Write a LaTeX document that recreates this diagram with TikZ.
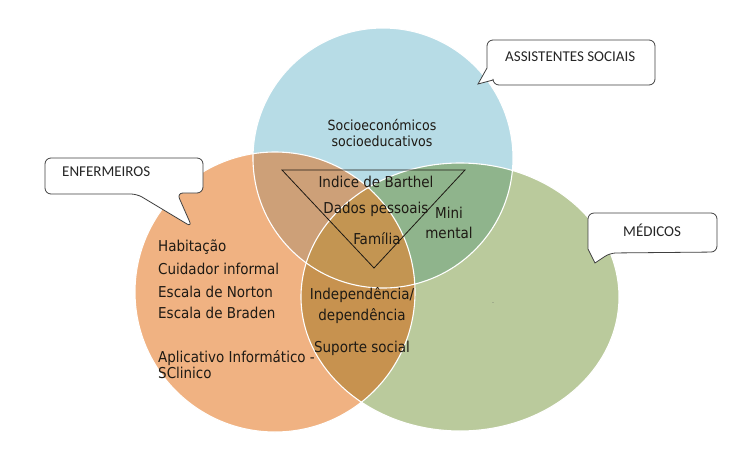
\documentclass[tikz,border=0pt]{standalone}
\usepackage{fontspec}
\newfontfamily\tahfont{DejaVu Sans Condensed}
\newfontfamily\calfont{Carlito}
\definecolor{cblue}{HTML}{B7DCE6}
\definecolor{corange}{HTML}{F0B282}
\definecolor{cgreen}{HTML}{BACA9C}
\definecolor{cab}{HTML}{CDA078}
\definecolor{cac}{HTML}{8FB48C}
\definecolor{cbc}{HTML}{C7924F}
\definecolor{cabc}{HTML}{C39552}
\definecolor{ctxt}{HTML}{1E1A14}
\begin{document}
\begin{tikzpicture}[x=1pt,y=-1pt,
  lbl/.style={font=\tahfont\fontsize{15}{17}\selectfont, text=ctxt, inner sep=0pt},
  callout/.style={draw=black!75, line width=0.8pt, fill=white, rounded corners=6pt},
  ctext/.style={font=\calfont\fontsize{15}{17}\selectfont, text=black!85, inner sep=0pt, anchor=west},
  rim/.style={draw=white, line width=1.1pt}]
\useasboundingbox (0,0) rectangle (748,459);
\def\A{(383,158) circle (130pt)}
\def\B{(275,292) circle (140pt)}
\def\C{(460,297) ellipse [x radius=159pt, y radius=134pt]}
% base fills
\fill[cblue] \A;
\fill[corange] \B;
\fill[cgreen] \C;
\begin{scope}\clip \A; \fill[cab] \B;\end{scope}
\begin{scope}\clip \A; \fill[cac] \C;\end{scope}
\begin{scope}\clip \B; \fill[cbc] \C;\end{scope}
\begin{scope}\clip \A; \clip \B; \fill[cabc] \C;\end{scope}
\path[rim] \A;
\path[rim] \B;
\path[rim] \C;
% triangle
\coordinate (t1) at (282,170);
\coordinate (t2) at (465,170);
\coordinate (t3) at (374,268);
\draw[line width=0.8pt, color=ctxt] (t1) -- (t2) -- (t3) -- cycle;
% texts
\node[lbl, align=center, font=\tahfont\fontsize{14}{16}\selectfont] (soc) at (382,133) {Socioeconómicos\\socioeducativos};
\node[lbl] (bar) at (376,182) {Indice de Barthel};
\node[lbl] (dad) at (376,209) {Dados pessoais};
\node[lbl] (fam) at (377,239) {Família};
\node[lbl, align=center, font=\tahfont\fontsize{15}{20}\selectfont] (mini) at (449,223) {Mini\\mental};
\node[lbl, anchor=west] (hab) at (158,247) {Habitação};
\node[lbl, anchor=west] (cui) at (158,269) {Cuidador informal};
\node[lbl, anchor=west] (nor) at (158,292) {Escala de Norton};
\node[lbl, anchor=west] (bra) at (158,313) {Escala de Braden};
\node[lbl, anchor=west, align=left, font=\tahfont\fontsize{15}{16}\selectfont] (apl) at (158,365) {Aplicativo Informático -\\SClinico};
\node[lbl, align=center, font=\tahfont\fontsize{15}{21}\selectfont] (ind) at (362,306) {Independência/\\dependência};
\node[lbl] (sup) at (362,348) {Suporte social};
\node[inner sep=0pt, font=\tahfont\fontsize{7}{8}\selectfont, text=black!60] (dot) at (493,303) {.};
% callouts
\draw[callout] (45,158) -- (203,158) -- (203,193) -- (177,193) -- (192,227) -- (137,194) -- (45,194) -- cycle;
\node[ctext] (enf) at (62,172) {ENFERMEIROS};
\draw[callout] (487,40) -- (655,40) -- (655,85) -- (493,85) [sharp corners] -- (493,80) -- (478,84) -- (487,68) [rounded corners=6pt] -- cycle;
\node[ctext] (ass) at (505,57) {ASSISTENTES SOCIAIS};
\draw[callout] (588,213) -- (717,213) -- (717,252) -- (610,253) [sharp corners] -- (595,263) -- (588,249) [rounded corners=6pt] -- cycle;
\node[ctext] (med) at (623,230) {MÉDICOS};
\end{tikzpicture}
\end{document}
